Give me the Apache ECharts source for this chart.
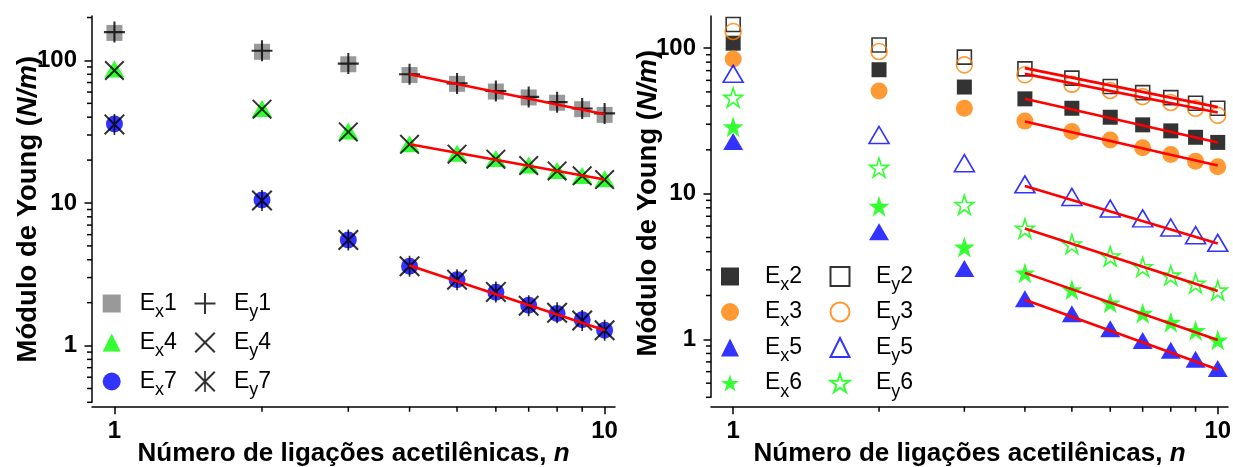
<!DOCTYPE html>
<html><head><meta charset="utf-8">
<script src="https://cdn.jsdelivr.net/npm/echarts@6/dist/echarts.min.js"></script>
<style>html,body{margin:0;padding:0;background:#fff}#c{width:1233px;height:467px}</style>
</head><body><div id="c"></div>
<script>
// ---- data ----
const nValues = [1, 2, 3, 4, 5, 6, 7, 8, 9, 10];
// left panel
const ex1 = [156, 115, 94, 79, 68.5, 60.5, 55, 50.5, 45.5, 41.5];
const ey1 = [158, 117, 95, 80, 69, 61, 55.5, 51, 46, 42.5];
const ex4 = [87, 46, 32, 26, 22.3, 20.5, 18.5, 16.9, 15.6, 14.8];
const ey4 = [85, 45.5, 31.5, 25.8, 22, 20.3, 18.3, 16.8, 15.5, 14.6];
const ex7 = [35.8, 10.5, 5.5, 3.6, 2.9, 2.37, 1.92, 1.68, 1.52, 1.28];
const ey7 = [35.6, 10.4, 5.5, 3.6, 2.9, 2.38, 1.9, 1.7, 1.5, 1.28];
const fitLeft1 = [[4, 80], [10, 42]];
const fitLeft4 = [[4, 25.8], [10, 14.6]];
const fitLeft7 = [[4, 3.65], [10, 1.28]];
// right panel
const ex2 = [108, 71, 54, 44.8, 38.6, 33.5, 29.7, 27, 24.4, 22.5];
const ey2 = [145, 105, 86.7, 72, 62.2, 54.5, 49.4, 45.7, 41.8, 38.6];
const ex3 = [84, 50.8, 38.6, 31.5, 26.7, 23.4, 20.7, 18.6, 16.7, 15.3];
const ey3 = [130, 94.8, 76.7, 65.5, 56.5, 51.1, 46.4, 42.3, 38.6, 34.5];
const ex5 = [22.8, 5.47, 3.06, 1.9, 1.5, 1.18, 0.98, 0.84, 0.73, 0.63];
const ey5 = [66.5, 25.3, 16.2, 11.6, 9.5, 7.9, 6.77, 5.86, 5.19, 4.6];
const ex6 = [28.8, 8.2, 4.3, 2.86, 2.19, 1.78, 1.51, 1.31, 1.15, 0.99];
const ey6 = [45.7, 15.1, 8.4, 5.77, 4.5, 3.72, 3.14, 2.75, 2.42, 2.17];
const fitEy2 = [[4, 72.8], [10, 39.3]];
const fitEy3 = [[4, 66.5], [10, 36.1]];
const fitEx2 = [[4, 44.8], [10, 22.5]];
const fitEx3 = [[4, 31.3], [10, 15.6]];
const fitEy5 = [[4, 11.3], [10, 4.55]];
const fitEy6 = [[4, 5.77], [10, 2.15]];
const fitEx6 = [[4, 2.86], [10, 0.99]];
const fitEx5 = [[4, 1.87], [10, 0.62]];
// axis ranges and ticks
const xRange = [0.9, 10.5];
const yRangeLeft = [0.4, 205];
const yRangeRight = [0.4, 166];
const xMajorTicks = [1, 10];
const xMinorTicks = [2, 3, 4, 5, 6, 7, 8, 9];
const yMajorTicks = [1, 10, 100];
const yMinorTicksLeft = [0.4, 0.5, 0.6, 0.7, 0.8, 0.9, 2, 3, 4, 5, 6, 7, 8, 9, 20, 30, 40, 50, 60, 70, 80, 90, 200];
const yMinorTicksRight = [0.4, 0.5, 0.6, 0.7, 0.8, 0.9, 2, 3, 4, 5, 6, 7, 8, 9, 20, 30, 40, 50, 60, 70, 80, 90];
const xTitle = 'Número de ligações acetilênicas, {i|n}';
const yTitle = 'Módulo de Young ({i|N/m})';

// ---- symbols ----
const PLUS = 'path://M9,0H11V9H20V11H11V20H9V11H0V9H9Z';
const CROSS = 'path://M0,1.4L1.4,0L10,8.6L18.6,0L20,1.4L11.4,10L20,18.6L18.6,20L10,11.4L1.4,20L0,18.6L8.6,10Z';
const ASTER = 'path://M9.2,0H10.8V20H9.2Z M0,1.4L1.4,0L10,8.6L18.6,0L20,1.4L11.4,10L20,18.6L18.6,20L10,11.4L1.4,20L0,18.6L8.6,10Z';
const STAR = 'path://M10,0L12.25,6.91L19.51,6.91L13.63,11.18L15.88,18.09L10,13.82L4.12,18.09L6.37,11.18L0.49,6.91L7.75,6.91Z';

const FONT = '"Liberation Sans", Arial, sans-serif';
const pts = arr => nValues.map((n, i) => [n, arr[i]]);

function scatter(name, arr, grid, symbol, size, color, open) {
  return {
    type: 'scatter', name, xAxisIndex: grid, yAxisIndex: grid,
    data: pts(arr), symbol, symbolSize: size, z: open === 'top' ? 3 : 2,
    itemStyle: open === true
      ? { color: 'rgba(0,0,0,0)', borderColor: color, borderWidth: 1.6 }
      : { color: color, borderWidth: 0 }
  };
}
function fit(data, grid) {
  return {
    type: 'line', xAxisIndex: grid, yAxisIndex: grid, data,
    showSymbol: false, symbol: 'none', z: 5, silent: true,
    lineStyle: { color: '#ff0000', width: 2.6 }
  };
}
// minor tick marks: custom series, positioned through the axes' own log scales
const TICK_LEN = 5;
function minorTicks(values, grid, dim, edge, axisOffset) {
  return {
    type: 'custom', xAxisIndex: grid, yAxisIndex: grid, silent: true, clip: false, z: 6,
    coordinateSystem: 'cartesian2d',
    encode: { x: 0, y: 1 },
    data: values.map(v => dim === 'y' ? [edge, v] : [v, edge]),
    renderItem: (params, api) => {
      const p = api.coord([api.value(0), api.value(1)]);
      const shape = dim === 'y'
        ? { x1: p[0] - TICK_LEN, y1: p[1], x2: p[0], y2: p[1] }
        : { x1: p[0], y1: p[1] + axisOffset, x2: p[0], y2: p[1] + axisOffset + TICK_LEN };
      return { type: 'line', shape, style: { stroke: '#000', lineWidth: 1.5 } };
    }
  };
}

function mainAxis(dim, grid, range, majors, extra) {
  return Object.assign({
    type: 'log', logBase: 10, gridIndex: grid, min: range[0], max: range[1],
    position: dim === 'x' ? 'bottom' : 'left',
    nameMoveOverlap: false,
    axisLine: { show: true, onZero: false, lineStyle: { color: '#000', width: 1.5 } },
    axisTick: { show: true, customValues: majors, length: 7.5, lineStyle: { color: '#000', width: 1.5 } },
    axisLabel: { show: true, customValues: majors, fontFamily: FONT, fontWeight: 'bold', fontSize: 24, color: '#000',
      margin: dim === 'x' ? 13 : 15, formatter: v => String(Math.round(v)) },
    minorTick: { show: false },
    splitLine: { show: false }
  }, extra);
}

const xNameStyle = {
  fontFamily: FONT, fontWeight: 'bold', fontSize: 26, color: '#000',
  rich: { i: { fontFamily: FONT, fontWeight: 'bold', fontStyle: 'italic', fontSize: 26, color: '#000' } }
};
const yNameStyle = pad => ({
  fontFamily: FONT, fontWeight: 'bold', fontSize: 27.5, color: '#000', padding: [0, 0, 0, pad],
  rich: { i: { fontFamily: FONT, fontWeight: 'bold', fontStyle: 'italic', fontSize: 27.5, color: '#000' } }
});

const gridL = { left: 92, top: 16, width: 523, height: 386.3 };
const gridR = { left: 711, top: 16, width: 517, height: 381.3 };
const xOffL = 4.4, xOffR = 9.4;
const gridOpt = g => Object.assign({ outerBoundsMode: 'none', containLabel: false }, g);

function legend(names, left, top, size, gap, pad) {
  return {
    data: names, orient: 'vertical', left, top, itemWidth: size, itemHeight: size, itemGap: gap,
    selectedMode: false, padding: 0,
    formatter: name => '{E|E}{s|' + name[1] + '}{d|' + name.slice(2) + '}',
    textStyle: {
      fontFamily: FONT, fontSize: 23, color: '#000',
      rich: {
        E: { fontFamily: FONT, fontSize: 23, lineHeight: 36, color: '#000', padding: [0, 0, 0, pad] },
        s: { fontFamily: FONT, fontSize: 18, lineHeight: 18, color: '#000', verticalAlign: 'bottom' },
        d: { fontFamily: FONT, fontSize: 23, lineHeight: 36, color: '#000' }
      }
    }
  };
}

const option = {
  backgroundColor: '#fff',
  animation: false,
  grid: [gridOpt(gridL), gridOpt(gridR)],
  xAxis: [
    mainAxis('x', 0, xRange, xMajorTicks, {
      offset: xOffL, name: xTitle, nameLocation: 'middle', nameGap: 34, nameTextStyle: xNameStyle }),
    mainAxis('x', 1, xRange, xMajorTicks, {
      offset: xOffR, name: xTitle, nameLocation: 'middle', nameGap: 34, nameTextStyle: xNameStyle })
  ],
  yAxis: [
    mainAxis('y', 0, yRangeLeft, yMajorTicks, {
      name: yTitle, nameLocation: 'middle', nameGap: 50, nameTextStyle: yNameStyle(0) }),
    mainAxis('y', 1, yRangeRight, yMajorTicks, {
      name: yTitle, nameLocation: 'middle', nameGap: 49, nameTextStyle: yNameStyle(7) })
  ],
  legend: [
    legend(['Ex1', 'Ex4', 'Ex7'], 102.7, 292, 18, 9.5, 14),
    legend(['Ey1', 'Ey4', 'Ey7'], 194.5, 292, 21, 9.5, 13.5),
    legend(['Ex2', 'Ex3', 'Ex5', 'Ex6'], 721, 265, 18, 6, 21),
    legend(['Ey2', 'Ey3', 'Ey5', 'Ey6'], 829.5, 265, 19, 6, 21.5)
  ],
  series: [
    scatter('Ex1', ex1, 0, 'rect', 16, '#808080', false),
    scatter('Ex4', ex4, 0, 'triangle', [20, 17], '#00ff00', false),
    scatter('Ex7', ex7, 0, 'circle', 17, '#0000ff', false),
    scatter('Ey1', ey1, 0, PLUS, 21, '#000', 'top'),
    scatter('Ey4', ey4, 0, CROSS, 20, '#000', 'top'),
    scatter('Ey7', ey7, 0, ASTER, 21, '#000', 'top'),
    fit(fitLeft1, 0), fit(fitLeft4, 0), fit(fitLeft7, 0),
    scatter('Ex2', ex2, 1, 'rect', 15, '#000', false),
    scatter('Ex3', ex3, 1, 'circle', 17, '#ff8000', false),
    scatter('Ex5', ex5, 1, 'triangle', [20, 17], '#0000ff', false),
    scatter('Ex6', ex6, 1, STAR, 21, '#00ff00', false),
    scatter('Ey2', ey2, 1, 'rect', 14, '#000', true),
    scatter('Ey3', ey3, 1, 'circle', 16, '#ff8000', true),
    scatter('Ey5', ey5, 1, 'triangle', [20, 17], '#0000ff', true),
    scatter('Ey6', ey6, 1, STAR, 19, '#00ff00', true),
    fit(fitEy2, 1), fit(fitEy3, 1), fit(fitEx2, 1), fit(fitEx3, 1),
    fit(fitEy5, 1), fit(fitEy6, 1), fit(fitEx6, 1), fit(fitEx5, 1),
    minorTicks(yMinorTicksLeft, 0, 'y', xRange[0], 0),
    minorTicks(yMinorTicksRight, 1, 'y', xRange[0], 0),
    minorTicks(xMinorTicks, 0, 'x', yRangeLeft[0], xOffL),
    minorTicks(xMinorTicks, 1, 'x', yRangeRight[0], xOffR)
  ]
};

const chart = echarts.init(document.getElementById('c'), null, { renderer: 'canvas' });
chart.setOption(option);
</script>
</body></html>
